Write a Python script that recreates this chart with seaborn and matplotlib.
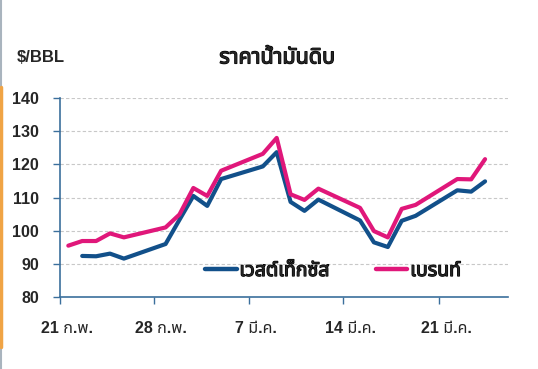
import pandas as pd
import seaborn as sns
import matplotlib
matplotlib.use("Agg")
import matplotlib.pyplot as plt
import matplotlib.patheffects as pe
from matplotlib import font_manager
from matplotlib.ft2font import FT2Font
from matplotlib.lines import Line2D

# Data (USD per barrel, 2022 trading days)
dates = ["2022-02-21", "2022-02-22", "2022-02-23", "2022-02-24", "2022-02-25",
         "2022-02-28", "2022-03-01", "2022-03-02", "2022-03-03", "2022-03-04",
         "2022-03-07", "2022-03-08", "2022-03-09", "2022-03-10", "2022-03-11",
         "2022-03-14", "2022-03-15", "2022-03-16", "2022-03-17", "2022-03-18",
         "2022-03-21", "2022-03-22", "2022-03-23"]
wti = [None, 92.4, 92.3, 93.1, 91.6,
       96.0, 103.3, 110.5, 107.5, 115.6,
       119.4, 123.7, 108.7, 106.0, 109.4,
       103.1, 96.5, 95.1, 103.0, 104.5,
       112.2, 111.8, 114.9]
brent = [95.5, 96.9, 96.9, 99.2, 98.0,
         101.0, 104.9, 112.9, 110.5, 118.1,
         123.2, 128.0, 111.0, 109.3, 112.7,
         106.9, 99.9, 98.0, 106.6, 107.8,
         115.6, 115.5, 121.6]
series_names = ["เวสต์เท็กซัส", "เบรนท์"]
tick_labels = ["21 ก.พ.", "28 ก.พ.", "7 มี.ค.", "14 มี.ค.", "21 มี.ค."]
tick_days = [-0.6, 6.2, 13.0, 19.8, 26.7]
y_ticks = [80, 90, 100, 110, 120, 130, 140]
title = "ราคาน้ำมันดิบ"
unit = "$/BBL"

colors = {series_names[0]: "#12508a", series_names[1]: "#e0177a"}


def find_thai_font():
    preferred = ["Noto Sans Thai", "Noto Sans Thai UI", "Noto Sans Thai Looped",
                 "Loma", "Garuda", "Umpush", "Waree", "Tlwg Typo", "Norasi"]
    found = set()
    for f in font_manager.fontManager.ttflist:
        try:
            if 0x0E01 in FT2Font(f.fname).get_charmap():
                found.add(f.name)
        except Exception:
            pass
    for name in preferred:
        if name in found:
            return [name]
    return sorted(found)[:1]


sns.set_style("white")
thai = find_thai_font()
plt.rcParams["font.family"] = ["Liberation Sans"] + thai + ["DejaVu Sans"]

# fake bold for the pure-Thai texts (the Thai font has no bold face)
heavy = [pe.withStroke(linewidth=0.9, foreground="black")]

d0 = pd.Timestamp(dates[0])
days = [(pd.Timestamp(d) - d0).days for d in dates]
df = pd.DataFrame({"day": days, series_names[0]: wti, series_names[1]: brent})
long = df.melt(id_vars="day", var_name="series", value_name="price").dropna()

fig = plt.figure(figsize=(5.38, 3.69), dpi=100)
ax = fig.add_axes([0.1115, 0.195, 0.8327, 0.539])

sns.lineplot(data=long, x="day", y="price", hue="series", hue_order=series_names,
             palette=colors, linewidth=3, ax=ax)

axis_col = "#3b6f9c"
ax.set_xlim(tick_days[0], 31.65)
ax.set_ylim(80, 140)
ax.set_yticks(y_ticks)
ax.set_yticklabels([str(v) for v in y_ticks], fontweight="bold", fontsize=11.5)
# tick marks on the major ticks, labels on minor ticks half a day to the right
ax.set_xticks(tick_days)
ax.set_xticklabels([])
ax.set_xticks([d + 0.5 for d in tick_days], minor=True)
ax.set_xticklabels(tick_labels, minor=True, fontweight="bold", fontsize=11.5)
ax.tick_params(axis="y", direction="out", length=5, width=1, color=axis_col, pad=10, left=True)
ax.tick_params(axis="x", which="major", direction="out", length=5, width=1,
               color=axis_col, bottom=True)
ax.tick_params(axis="x", which="minor", length=0, pad=17, bottom=True)
ax.set_xlabel("")
ax.set_ylabel("")

for y in y_ticks[1:]:
    ax.axhline(y, color="#c8c8c8", linewidth=0.8, linestyle=(0, (3, 2)), zorder=0)

for s in ["top", "right"]:
    ax.spines[s].set_visible(False)
for s in ["left", "bottom"]:
    ax.spines[s].set_color(axis_col)
    ax.spines[s].set_linewidth(1.2)

leg = ax.legend(loc="center", bbox_to_anchor=(0.61, 0.13), ncol=2, frameon=False,
                handlelength=1.6, columnspacing=2.4, handletextpad=0.15,
                prop={"weight": "bold", "size": 14})
for t in leg.get_texts():
    t.set_path_effects(heavy)
for h in leg.get_lines():
    h.set_linewidth(3.2)

fig.text(0.032, 0.843, unit, fontsize=12, fontweight="bold", va="center")
fig.text(0.515, 0.843, title, fontsize=15.5, fontweight="bold", ha="center", va="center",
         family=thai + ["DejaVu Sans"], path_effects=heavy)

# thin coloured border on the left edge
fig.add_artist(Line2D([0.002, 0.002], [0, 1], transform=fig.transFigure,
                      color="#a9b4be", linewidth=1.5))
fig.add_artist(Line2D([0.002, 0.002], [0.06, 0.765], transform=fig.transFigure,
                      color="#f0a445", linewidth=2.5))

fig.savefig("out.png", dpi=100)
